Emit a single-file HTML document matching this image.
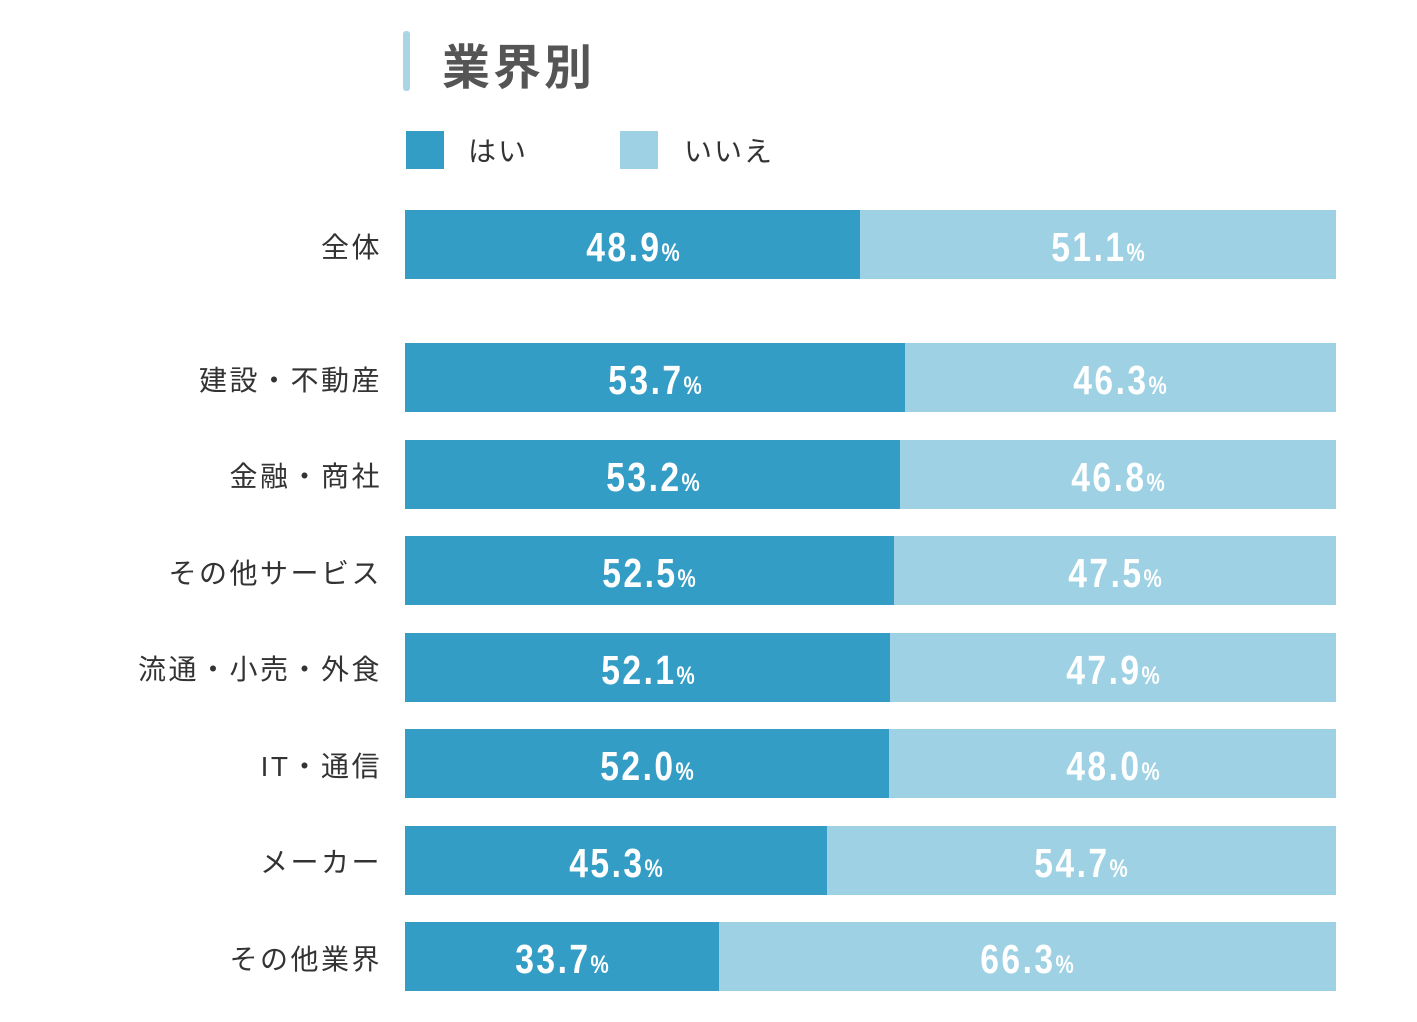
<!DOCTYPE html>
<html><head><meta charset="utf-8">
<style>
body{margin:0;width:1417px;height:1022px;background:#fff;position:relative;overflow:hidden;font-family:"Liberation Sans","Noto Sans CJK JP",sans-serif;}
.abs{position:absolute;}
.lbl{position:absolute;right:1035px;font-size:28px;color:#333;white-space:nowrap;line-height:1;letter-spacing:2.5px;}
.seg{position:absolute;}
.val{position:absolute;top:3px;height:100%;display:flex;align-items:center;justify-content:center;color:#fff;font-weight:bold;font-size:41px;white-space:nowrap;}
.val span.in{display:inline-block;transform:scaleX(0.82);letter-spacing:3px;}
.val small{font-size:25px;letter-spacing:0;}
</style></head><body>
<div class="abs" style="left:403px;top:31px;width:7px;height:60px;background:#a9d5e5;border-radius:3px"></div>
<div class="abs" style="left:442px;top:28px;font-size:48px;font-weight:bold;color:#555;letter-spacing:3px">業界別</div>
<div class="abs" style="left:406px;top:131px;width:38px;height:38px;background:#339dc6"></div>
<div class="abs" style="left:468px;top:130px;font-size:28px;color:#333;letter-spacing:2px">はい</div>
<div class="abs" style="left:620px;top:131px;width:38px;height:38px;background:#9dd1e3"></div>
<div class="abs" style="left:684px;top:130px;font-size:28px;color:#333;letter-spacing:2px">いいえ</div>
<div id="chart"></div>
<script>
const categories=["全体","建設・不動産","金融・商社","その他サービス","流通・小売・外食","IT・通信","メーカー","その他業界"];
const yesValues=[48.9,53.7,53.2,52.5,52.1,52.0,45.3,33.7];
const noValues=[51.1,46.3,46.8,47.5,47.9,48.0,54.7,66.3];
const X0=405,W=931,H=69;
function xScale(v){return v/100*W;}
function rowY(i){return i===0?210:343+(i-1)*96.5;}
const chart=document.getElementById('chart');
categories.forEach((c,i)=>{
  const y=rowY(i);
  const l=document.createElement('div');
  l.className='lbl';
  
  
  l.style.top=(y+H/2-11)+'px';
  l.textContent=c;
  chart.appendChild(l);
  const wy=xScale(yesValues[i]), wn=xScale(noValues[i]);
  [[X0,wy,'#339dc6',yesValues[i],'bar-yes'],[X0+wy,wn,'#9dd1e3',noValues[i],'bar-no']].forEach(s=>{
    const d=document.createElement('div');
    d.className='seg';
    
    
    d.style.cssText=`left:${s[0]}px;top:${y}px;width:${s[1]}px;height:${H}px;background:${s[2]}`;
    const v=document.createElement('div');
    v.className='val';
    
    
    v.style.left='0';v.style.width='100%';
    v.innerHTML='<span class="in">'+s[3].toFixed(1)+'<small>%</small></span>';
    d.appendChild(v);
    chart.appendChild(d);
  });
});
</script>
</body></html>
